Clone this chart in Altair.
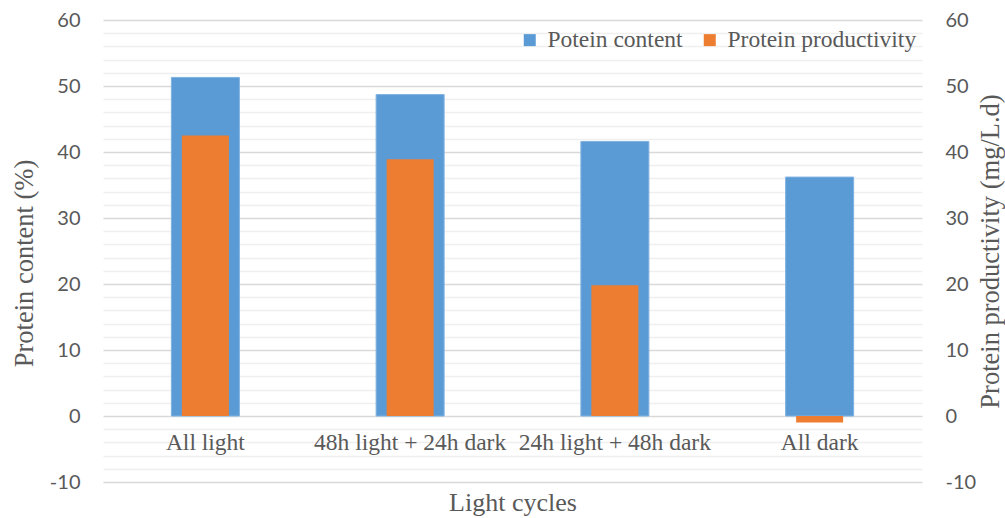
import altair as alt
import pandas as pd

categories = ["All light", "48h light + 24h dark", "24h light + 48h dark", "All dark"]
content = [51.3, 48.7, 41.6, 36.2]
productivity = [42.5, 38.9, 19.8, -1.0]
series_names = ["Potein content", "Protein productivity"]
series_colors = ["#5B9BD5", "#ED7D31"]
grid_values = list(range(-10, 61, 2))
major_values = list(range(-10, 61, 10))

df_c = pd.DataFrame({"cat": categories, "val": content, "series": series_names[0]})
df_p = pd.DataFrame({"cat": categories, "val": productivity, "series": series_names[1]})
df_l = pd.DataFrame({"cat": categories})

SERIF = "Liberation Serif"
SANS = "Lato"
GREY = "#595959"

xenc = alt.X(
    "cat:N",
    sort=categories,
    scale=alt.Scale(paddingInner=0, paddingOuter=0),
    axis=alt.Axis(
        labels=False, ticks=False, domain=False, grid=False,
        title="Light cycles", titleFont=SERIF, titleFontSize=26, titleFontWeight="normal",
        titleColor=GREY, titleBaseline="middle", titleY=20,
    ),
)

color = alt.Color(
    "series:N",
    scale=alt.Scale(domain=series_names, range=series_colors),
    legend=alt.Legend(
        title=None, orient="none", direction="horizontal", legendX=415, legendY=8,
        symbolType="square", symbolSize=144, symbolStrokeWidth=0,
        labelFont=SERIF, labelFontSize=23.5, labelColor=GREY, labelOffset=6,
        labelLimit=0, columnPadding=15, padding=0,
    ),
)

yscale = alt.Scale(domain=[-10, 60], nice=False, zero=False)

left_axis = alt.Axis(
    values=grid_values,
    labelExpr="datum.value % 10 === 0 ? datum.value + '' : ''",
    labelOverlap=False,
    labelFont=SANS, labelFontSize=20, labelColor=GREY, labelPadding=23,
    ticks=False, domain=False,
    grid=True,
    gridColor={"condition": {"test": "datum.value % 10 === 0", "value": "#d9d9d9"}, "value": "#efefef"},
    gridWidth=1.4,
    title="Protein content (%)", titleFont=SERIF, titleFontSize=26.5, titleFontWeight="normal",
    titleColor=GREY, titleAngle=270, titleBaseline="middle", titleAlign="center",
    titleX=-79, titleY=243,
)

blue = alt.Chart(df_c).mark_bar(size=68, stroke="#7fb1e0", strokeWidth=1).encode(
    x=xenc,
    y=alt.Y("val:Q", scale=yscale, axis=left_axis),
    color=color,
)

labels = alt.Chart(df_l).mark_text(
    font=SERIF, fontSize=23.5, color=GREY, baseline="middle", align="center", dy=27
).encode(
    x=alt.X("cat:N", sort=categories),
    y=alt.datum(0, scale=yscale, axis=left_axis),
    text="cat:N",
)

orange = alt.Chart(df_p).mark_bar(size=47).encode(
    x=alt.X("cat:N", sort=categories),
    y=alt.Y(
        "val:Q",
        scale=yscale,
        axis=alt.Axis(
            orient="right", values=major_values, grid=False, ticks=False, domain=False,
            labelExpr="datum.value + ''",
            labelFont=SANS, labelFontSize=20, labelColor=GREY, labelPadding=23,
            title="Protein productivity (mg/L.d)", titleFont=SERIF, titleFontSize=26.5,
            titleFontWeight="normal", titleColor=GREY, titleAngle=270, titleBaseline="middle",
            titleAlign="center", titleX=68, titleY=231,
        ),
    ),
    color=color,
)

chart = alt.layer(alt.layer(blue, labels), orange).resolve_scale(y="independent").properties(
    width=819, height=462,
    autosize=alt.AutoSizeParams(type="none"),
    padding={"left": 103, "top": 20, "right": 83, "bottom": 36},
    background="white",
).configure_view(stroke=None)

chart.save("out.html", embed_options={"renderer": "svg", "actions": False})
